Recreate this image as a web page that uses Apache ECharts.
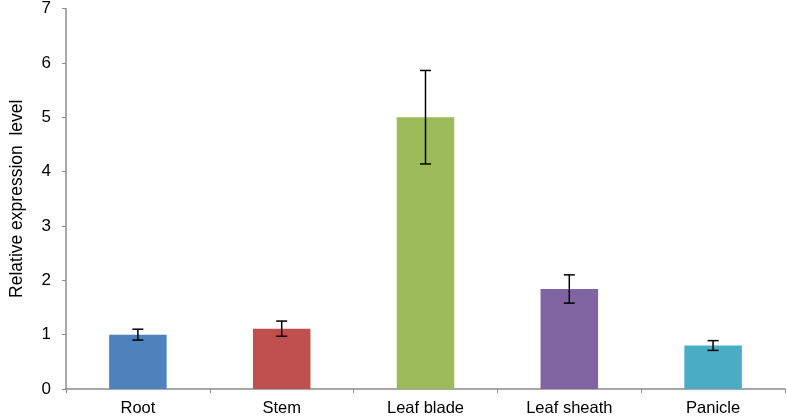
<!DOCTYPE html>
<html><head><meta charset="utf-8">
<script src="https://cdn.jsdelivr.net/npm/echarts@6/dist/echarts.min.js"></script>
<style>html,body{margin:0;padding:0;background:#fff}#c{width:787px;height:417px}</style>
</head><body><div id="c"></div>
<script>
const categories = ['Root', 'Stem', 'Leaf blade', 'Leaf sheath', 'Panicle'];
const values = [1.0, 1.11, 5.0, 1.84, 0.8];
const errors = [0.1, 0.14, 0.86, 0.26, 0.09];
const colors = ['#4F81BD', '#C0504D', '#9BBB59', '#8064A2', '#4BACC6'];
const yTicks = [0, 1, 2, 3, 4, 5, 6, 7];

const chart = echarts.init(document.getElementById('c'));
chart.setOption({
  animation: false,
  grid: { left: 55.5, right: 2, top: 8.5, bottom: 28 },
  xAxis: {
    type: 'category', data: categories,
    axisLine: { lineStyle: { color: '#8c8c8c', width: 1.5 } },
    axisTick: { show: true, length: 4, lineStyle: { color: '#8c8c8c' } },
    axisLabel: { color: '#000', fontSize: 16.5, fontFamily: 'Liberation Sans, Arial', margin: 11 }
  },
  yAxis: {
    type: 'value', min: 0, max: 7, interval: 1,
    name: 'Relative expression  level', nameLocation: 'middle', nameGap: 40,
    nameTextStyle: { color: '#000', fontSize: 17.5, fontFamily: 'Liberation Sans, Arial' },
    axisLine: { show: true, lineStyle: { color: '#8c8c8c', width: 1.5 } },
    axisTick: { show: true, length: 4, lineStyle: { color: '#8c8c8c' } },
    splitLine: { show: false },
    axisLabel: { color: '#000', fontSize: 17, fontFamily: 'Liberation Sans, Arial', margin: 15,
      formatter: v => yTicks.includes(v) ? String(v) : '' }
  },
  series: [
    {
      type: 'bar', barWidth: '40%',
      data: values.map((v, i) => ({ value: v, itemStyle: { color: colors[i] } }))
    },
    {
      type: 'custom',
      data: values.map((v, i) => [i, v - errors[i], v + errors[i]]),
      renderItem: (params, api) => {
        const lo = api.coord([api.value(0), api.value(1)]);
        const hi = api.coord([api.value(0), api.value(2)]);
        const hw = 5.5;
        const st = { stroke: '#000', lineWidth: 1.5 };
        return { type: 'group', children: [
          { type: 'line', shape: { x1: hi[0], y1: hi[1], x2: lo[0], y2: lo[1] }, style: st },
          { type: 'line', shape: { x1: hi[0] - hw, y1: hi[1], x2: hi[0] + hw, y2: hi[1] }, style: st },
          { type: 'line', shape: { x1: lo[0] - hw, y1: lo[1], x2: lo[0] + hw, y2: lo[1] }, style: st }
        ]};
      },
      z: 10
    }
  ]
});
</script></body></html>
